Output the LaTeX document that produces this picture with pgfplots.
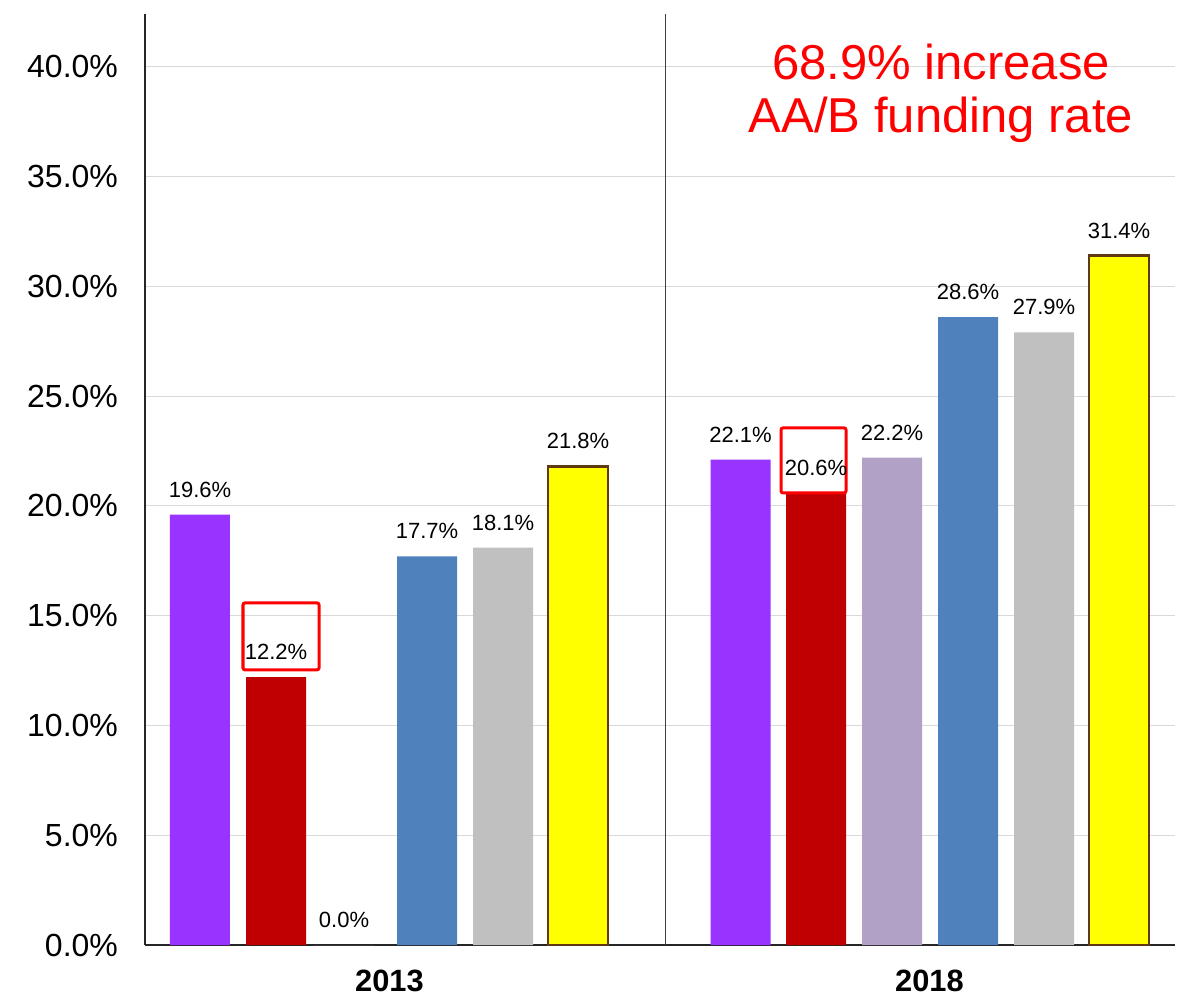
\documentclass[border=0pt]{standalone}
\usepackage{pgfplots}
\pgfplotsset{compat=1.18}
\usepackage{fontspec}
\setmainfont{Liberation Sans}
\definecolor{cPurple}{HTML}{9933FF}
\definecolor{cRed}{HTML}{C00000}
\definecolor{cLav}{HTML}{B2A1C7}
\definecolor{cBlue}{HTML}{4F81BD}
\definecolor{cGray}{HTML}{C0C0C0}
\definecolor{cYel}{HTML}{FFFF00}
\definecolor{cBrown}{HTML}{603913}
\definecolor{cGrid}{HTML}{D9D9D9}
\begin{document}
\begin{tikzpicture}
\useasboundingbox (-72.5pt,-28.5pt) rectangle (517pt,472.5pt);
\begin{axis}[
  at={(0,0)}, anchor=south west,
  scale only axis, width=515pt, height=465.5pt,
  xmin=145, xmax=1175, ymin=0, ymax=42.4,
  axis lines*=left,
  axis line style={black!85, line width=0.55pt},
  ybar, bar width=60, bar shift=0pt,
  xtick={389.5,929.5}, xticklabels={2013,2018},
  xticklabel style={font=\fontsize{15.4}{18}\selectfont\bfseries, yshift=-9pt},
  extra x ticks={665}, extra x tick labels={},
  extra x tick style={grid=major, major grid style={black!75, line width=0.5pt}},
  ytick={0,5,...,40},
  yticklabel={\pgfmathprintnumber[fixed,zerofill,precision=1]{\tick}\%},
  yticklabel style={font=\fontsize{16}{19}\selectfont, xshift=-10pt},
  /pgf/number format/assume math mode=true,
  ymajorgrids, major grid style={cGrid, line width=0.5pt},
  major tick length=0pt,
  nodes near coords={\pgfmathprintnumber[fixed,zerofill,precision=1]{\pgfplotspointmeta}\%},
  every node near coord/.append style={font=\fontsize{11}{13}\selectfont, anchor=center, yshift=12.5pt, black},
  clip=false,
]
\addplot[fill=cPurple, draw=none] coordinates {(200,19.6) (740.5,22.1)};
\addplot[fill=cRed, draw=none] coordinates {(276,12.2) (816,20.6)};
\addplot[fill=cLav, draw=none] coordinates {(344,0) (892,22.2)};
\addplot[fill=cBlue, draw=none] coordinates {(427,17.7) (968,28.6)};
\addplot[fill=cGray, draw=none] coordinates {(503,18.1) (1044,27.9)};
\addplot[fill=cYel, draw=cBrown, line width=1.2pt] coordinates {(578,21.8) (1119,31.4)};
\draw[red, line width=1.5pt, rounded corners=1pt] (axis cs:243,15.58) rectangle (axis cs:319,12.53);
\draw[red, line width=1.5pt, rounded corners=1pt] (axis cs:781,23.55) rectangle (axis cs:846,20.59);
\node[red, align=center, font=\fontsize{24.5}{26.5}\selectfont] at (axis cs:941,38.8) {68.9\% increase\\AA/B funding rate};
\end{axis}
\end{tikzpicture}
\end{document}
